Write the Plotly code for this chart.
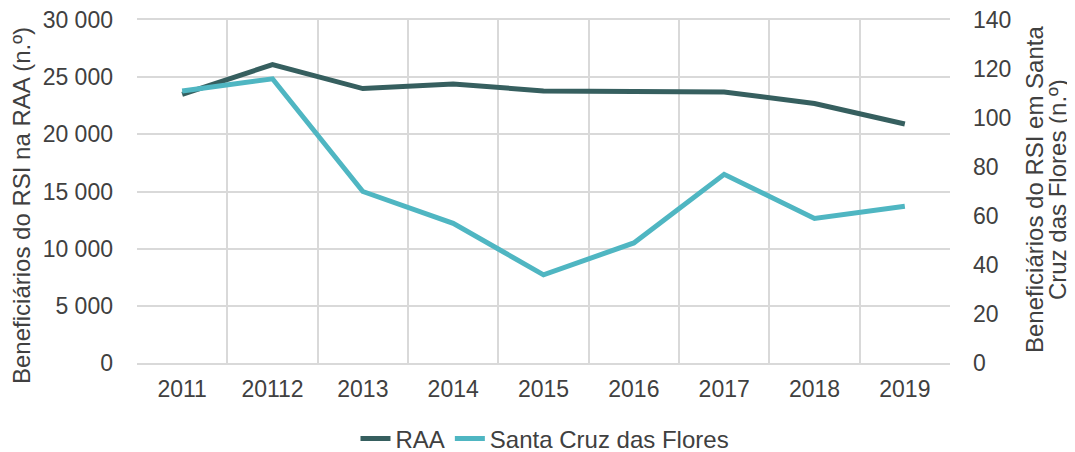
import plotly.graph_objects as go

years = ["2011", "20112", "2013", "2014", "2015", "2016", "2017", "2018", "2019"]
raa = [23500, 26100, 24000, 24400, 23800, 23750, 23700, 22700, 20900]
santa_cruz = [111, 116, 70, 57, 36, 49, 77, 59, 64]

left_ticks = [0, 5000, 10000, 15000, 20000, 25000, 30000]
left_labels = ["0", "5 000", "10 000", "15 000", "20 000", "25 000", "30 000"]
right_ticks = [0, 20, 40, 60, 80, 100, 120, 140]

font_color = "#404040"
grid_color = "#D9D9D9"
fs_tick = 23
fs_title = 24
family = '"Liberation Sans", Arial, sans-serif'

# page has an 8px body margin; figure is sized to fill the rest of the window
OFF = 8
W, H = 1075 - OFF, 452 - OFF
L, R, T, B = 137 - OFF, 125, 20 - OFF, 89
pw = W - L - R
ph = H - T - B

fig = go.Figure()
fig.add_trace(go.Scatter(x=years, y=raa, name="RAA", mode="lines",
                         line=dict(color="#365F5F", width=5)))
fig.add_trace(go.Scatter(x=years, y=santa_cruz, name="Santa Cruz das Flores", mode="lines",
                         line=dict(color="#4FB6C2", width=5), yaxis="y2"))

def px_x(page_x):
    return (page_x - OFF - L) / pw

def px_y(page_y):
    return 1 - (page_y - OFF - T) / ph

fig.update_layout(
    width=W, height=H,
    margin=dict(l=L, r=R, t=T, b=B, autoexpand=False),
    paper_bgcolor="white", plot_bgcolor="white",
    font=dict(family=family, size=fs_tick, color=font_color),
    showlegend=True,
    legend=dict(orientation="h", x=px_x(545), xanchor="center", y=px_y(439), yanchor="middle",
                font=dict(size=fs_title, color=font_color)),
    xaxis=dict(type="category", range=[-0.5, 8.5], tickson="boundaries", showgrid=True,
               gridcolor=grid_color, gridwidth=1.5, ticks="", showline=True,
               linecolor=grid_color, linewidth=1.5, mirror=True,
               tickfont=dict(size=fs_tick), ticklabelstandoff=5, automargin=False),
    yaxis=dict(range=[0, 30000], tickvals=left_ticks, ticktext=left_labels,
               showgrid=True, gridcolor=grid_color, gridwidth=1.5, zeroline=False,
               showline=False, ticks="", tickfont=dict(size=fs_tick), ticklabelstandoff=23,
               ticklabeloverflow="allow", automargin=False),
    yaxis2=dict(range=[0, 140], tickvals=right_ticks, overlaying="y", side="right",
                showgrid=False, zeroline=False, ticks="", tickfont=dict(size=fs_tick),
                ticklabelstandoff=22, ticklabeloverflow="allow", automargin=False),
    annotations=[
        dict(text="Beneficiários do RSI na RAA (n.º)", textangle=-90, showarrow=False,
             xref="paper", yref="paper", x=px_x(21), y=px_y(206), xanchor="center",
             yanchor="middle", font=dict(size=fs_title, color=font_color)),
        dict(text="Beneficiários do RSI em Santa", textangle=-90,
             showarrow=False, xref="paper", yref="paper", x=px_x(1034), y=px_y(190),
             xanchor="center", yanchor="middle", font=dict(size=fs_title, color=font_color)),
        dict(text="Cruz das Flores (n.º)", textangle=-90,
             showarrow=False, xref="paper", yref="paper", x=px_x(1057), y=px_y(190),
             xanchor="center", yanchor="middle", font=dict(size=fs_title, color=font_color)),
    ],
)

fig.write_html("out.html")
